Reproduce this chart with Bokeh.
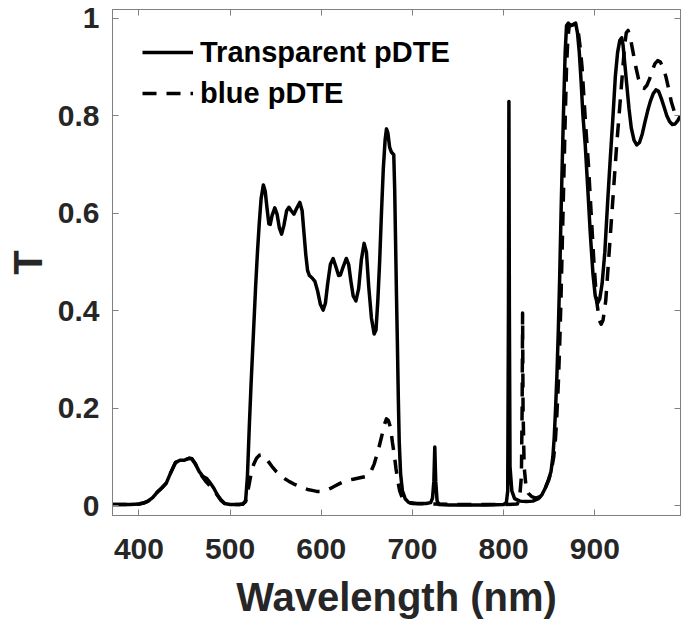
from bokeh.plotting import figure
from bokeh.models import Range1d, FixedTicker, LinearAxis, Legend, LegendItem
from bokeh.embed import file_html
from bokeh.resources import INLINE

# ---- data ----
wl_transparent = [371, 380, 390, 400, 405, 410, 415, 420, 425, 430, 435, 440, 445, 450, 455, 458,
                  462, 466, 470, 474, 478, 482, 486, 490, 494, 500, 510, 514, 517, 519, 521, 523,
                  525.5, 528, 530, 532, 534, 536.5, 538.5, 540.5, 542.5, 544, 546, 549, 551.5, 554,
                  556.5, 559, 562, 564.5, 567, 570, 573, 576.5, 579, 581, 583, 585, 587, 590, 593,
                  596, 599, 602, 604.5, 607, 610, 613, 616, 619, 621, 624, 627.5, 630, 632.5, 635,
                  638, 641, 644, 647, 649.5, 652, 655, 658, 660, 662, 664, 666, 668, 670, 671.5,
                  673, 675, 677, 679.5, 680.5, 681.5, 682.5, 683.5, 684.5, 685.5, 687, 689, 692,
                  696, 705, 715, 720, 722, 723.5, 724.5, 725.5, 727, 729, 740, 760, 780, 800, 803,
                  804.5, 805.3, 805.8, 806.3, 807, 809, 812, 818, 825, 832, 838, 842, 846, 849,
                  852, 854, 855.5, 857, 858.5, 860, 861.5, 863, 864.5, 866, 867.5, 869, 871, 873,
                  876, 879, 881, 883, 885, 887, 889.5, 892, 895, 898, 900.5, 903, 905.5, 908, 911,
                  914, 917, 920, 922.5, 925, 927.5, 929.5, 931, 933, 935, 937.5, 940, 943, 946,
                  949, 952, 955, 958, 961, 964, 967, 970, 973, 976, 979, 982, 985, 988, 991, 994]
T_transparent = [0.002, 0.002, 0.002, 0.003, 0.005, 0.009, 0.016, 0.027, 0.036, 0.046, 0.068, 0.088,
                 0.093, 0.093, 0.097, 0.096, 0.085, 0.070, 0.060, 0.056, 0.047, 0.036, 0.022, 0.011,
                 0.004, 0.002, 0.002, 0.003, 0.010, 0.060, 0.160, 0.250, 0.350, 0.450, 0.520, 0.580,
                 0.630, 0.658, 0.645, 0.610, 0.578, 0.577, 0.595, 0.611, 0.598, 0.570, 0.557, 0.575,
                 0.605, 0.612, 0.605, 0.598, 0.610, 0.622, 0.605, 0.560, 0.515, 0.482, 0.472, 0.467,
                 0.460, 0.440, 0.413, 0.401, 0.415, 0.455, 0.495, 0.507, 0.490, 0.472, 0.473, 0.490,
                 0.507, 0.495, 0.460, 0.430, 0.420, 0.445, 0.505, 0.538, 0.520, 0.450, 0.385, 0.352,
                 0.360, 0.420, 0.500, 0.600, 0.690, 0.750, 0.773, 0.765, 0.735, 0.725, 0.720, 0.650,
                 0.540, 0.430, 0.330, 0.220, 0.130, 0.065, 0.030, 0.014, 0.006, 0.004, 0.004, 0.006,
                 0.015, 0.050, 0.120, 0.050, 0.010, 0.002, 0.001, 0.001, 0.001, 0.002, 0.006, 0.030,
                 0.400, 0.829, 0.400, 0.080, 0.030, 0.014, 0.009, 0.008, 0.009, 0.014, 0.022, 0.037,
                 0.052, 0.070, 0.100, 0.140, 0.200, 0.270, 0.360, 0.470, 0.600, 0.720, 0.830, 0.930,
                 0.985, 0.990, 0.985, 0.987, 0.990, 0.970, 0.930, 0.870, 0.800, 0.740, 0.660, 0.560,
                 0.475, 0.430, 0.415, 0.425, 0.455, 0.520, 0.620, 0.713, 0.800, 0.880, 0.930, 0.955,
                 0.960, 0.945, 0.905, 0.865, 0.815, 0.775, 0.750, 0.740, 0.745, 0.762, 0.787, 0.810,
                 0.830, 0.845, 0.853, 0.850, 0.835, 0.818, 0.800, 0.788, 0.782, 0.783, 0.790, 0.800]

wl_blue = [371, 380, 390, 400, 405, 410, 415, 420, 425, 430, 435, 440, 445, 450, 455, 458, 462, 466,
           470, 474, 478, 482, 486, 490, 494, 500, 510, 514, 517, 519, 521, 523, 526, 529, 532, 535,
           538, 542, 546, 550, 555, 560, 565, 570, 575, 580, 585, 590, 595, 600, 605, 610, 615, 620,
           625, 630, 635, 640, 645, 650, 654, 658, 662, 666, 669, 671.5, 673.5, 676, 678, 680, 682,
           684, 686, 689, 693, 700, 720, 760, 800, 815, 817.5, 819.5, 820.3, 820.8, 821.3, 822.5,
           824.5, 827, 831, 835, 840, 845, 849, 852, 855, 857, 858.5, 860, 861.5, 863, 864.5, 866,
           867.5, 869, 870.5, 872, 874, 877, 880, 882, 884, 886, 888, 890, 893, 896, 899, 902, 905,
           907, 909, 912, 915, 918, 921, 924, 927, 930, 932.5, 934.5, 936.5, 939, 942, 945, 948,
           951, 954, 957, 960, 963, 966, 969, 972, 975, 978, 981, 984, 987, 990, 994]
T_blue = [0.002, 0.002, 0.002, 0.003, 0.005, 0.009, 0.016, 0.027, 0.036, 0.046, 0.068, 0.088, 0.093,
          0.093, 0.097, 0.096, 0.085, 0.070, 0.058, 0.048, 0.040, 0.033, 0.021, 0.011, 0.004, 0.002,
          0.002, 0.003, 0.008, 0.025, 0.045, 0.065, 0.085, 0.097, 0.103, 0.104, 0.100, 0.090, 0.080,
          0.071, 0.062, 0.055, 0.049, 0.044, 0.040, 0.036, 0.033, 0.031, 0.029, 0.029, 0.031, 0.035,
          0.040, 0.045, 0.049, 0.052, 0.054, 0.056, 0.058, 0.060, 0.068, 0.085, 0.110, 0.140, 0.165,
          0.178, 0.175, 0.160, 0.130, 0.105, 0.075, 0.050, 0.030, 0.015, 0.007, 0.004, 0.003, 0.002,
          0.002, 0.003, 0.015, 0.060, 0.200, 0.395, 0.200, 0.080, 0.040, 0.025, 0.018, 0.015, 0.018,
          0.033, 0.050, 0.068, 0.100, 0.140, 0.190, 0.250, 0.330, 0.430, 0.550, 0.670, 0.790, 0.900,
          0.960, 0.985, 0.985, 0.987, 0.985, 0.970, 0.940, 0.900, 0.840, 0.780, 0.700, 0.600, 0.500,
          0.420, 0.380, 0.372, 0.380, 0.420, 0.500, 0.580, 0.660, 0.740, 0.810, 0.880, 0.940, 0.970,
          0.975, 0.960, 0.930, 0.900, 0.875, 0.860, 0.856, 0.862, 0.875, 0.893, 0.907, 0.913, 0.910,
          0.898, 0.880, 0.855, 0.828, 0.810, 0.800, 0.795]

x_ticks = [400, 500, 600, 700, 800, 900]
y_ticks = [0, 0.2, 0.4, 0.6, 0.8, 1]
y_tick_labels = ["0", "0.2", "0.4", "0.6", "0.8", "1"]
series_names = ["Transparent pDTE", "blue pDTE"]

# ---- styling ----
FONT = "Liberation Sans"
TXT = "#262626"
AX = "#808080"

p = figure(width=681, height=621, output_backend="svg", toolbar_location=None,
           x_range=Range1d(371, 994), y_range=Range1d(-0.0205, 1.018),
           min_border_left=112, min_border_right=1, min_border_top=9, min_border_bottom=104,
           background_fill_color="white", border_fill_color="white")
p.outline_line_color = AX
p.outline_line_width = 1
p.xgrid.visible = False
p.ygrid.visible = False

def style_axis(ax, show_labels=True):
    ax.axis_line_color = AX
    ax.major_tick_line_color = AX
    ax.major_tick_in = 6
    ax.major_tick_out = 0
    ax.minor_tick_line_color = None
    ax.major_label_text_font = FONT
    ax.major_label_text_font_style = "bold"
    ax.major_label_text_color = TXT
    ax.axis_label_text_font = FONT
    ax.axis_label_text_font_style = "bold"
    ax.axis_label_text_color = TXT
    if not show_labels:
        ax.major_label_text_font_size = "1px"
        ax.major_label_text_color = None
        ax.major_label_standoff = 0

xa = p.xaxis[0]
style_axis(xa)
xa.ticker = FixedTicker(ticks=x_ticks)
xa.major_label_text_font_size = "30px"
xa.major_label_standoff = 23
xa.axis_label = "Wavelength (nm)"
xa.axis_label_text_font_size = "40px"
xa.axis_label_standoff = 13

ya = p.yaxis[0]
style_axis(ya)
ya.ticker = FixedTicker(ticks=y_ticks)
ya.major_label_overrides = {t: s for t, s in zip(y_ticks, y_tick_labels)}
ya.major_label_text_font_size = "30px"
ya.major_label_standoff = 13
ya.axis_label = "T"
ya.axis_label_text_font_size = "40px"
ya.axis_label_standoff = 5

top = LinearAxis(ticker=FixedTicker(ticks=x_ticks))
style_axis(top, show_labels=False)
p.add_layout(top, "above")
right = LinearAxis(ticker=FixedTicker(ticks=y_ticks))
style_axis(right, show_labels=False)
p.add_layout(right, "right")

r1 = p.line(wl_transparent, T_transparent, line_color="black", line_width=3.5, line_join="round")
r2 = p.line(wl_blue, T_blue, line_color="black", line_width=3.5, line_dash="14 10", line_join="round")

legend = Legend(items=[LegendItem(label=series_names[0], renderers=[r1]),
                       LegendItem(label=series_names[1], renderers=[r2])],
                location=(30, 404),
                padding=0, margin=0, spacing=5,
                glyph_width=51, glyph_height=36, label_height=36, label_standoff=7,
                label_text_font=FONT, label_text_font_style="bold", label_text_font_size="29px",
                label_text_color="black",
                border_line_color=None, background_fill_alpha=0)
p.add_layout(legend)

open("out.html", "w").write(file_html(p, INLINE))
